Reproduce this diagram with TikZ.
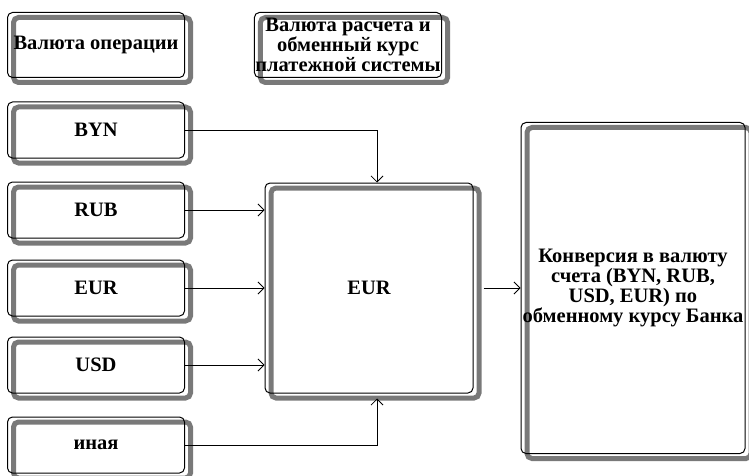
\documentclass[tikz,border=0pt]{standalone}
\usepackage{fontspec}
\setmainfont{Liberation Serif}
\usetikzlibrary{positioning, arrows.meta}

\begin{document}
\begin{tikzpicture}
[x=1pt,y=-1pt,
 every node/.style={font=\fontsize{20.5}{18.5}\selectfont\bfseries},
 box/.style={draw,line width=1pt,rounded corners=5pt,inner sep=1pt,
   preaction={draw=gray!95!black,line width=5pt,
     transform canvas={shift={(6pt,-5pt)}}}},
 small/.style={box,minimum width=177pt,minimum height=56pt},
 arr/.style={-{Straight Barb[length=6pt,width=12pt]},line width=0.8pt}]
\useasboundingbox (0,0) rectangle (749,476);

\node[box,minimum width=177pt,minimum height=65pt] (op) at (96,45) {Валюта операции};
\node[box,minimum width=182pt,minimum height=65pt,align=center] (rate) at (348,45)
	{Валюта расчета и\\обменный курс\\платежной системы};

\node[small] (byn) at (96,130) {BYN};
\node[small] (rub) at (96,210) {RUB};
\node[small] (eur) at (96,288) {EUR};
\node[small] (usd) at (96,365) {USD};
\node[small] (other) at (96,445) {иная};

\node[box,minimum width=208pt,minimum height=210pt] (base) at (369,288) {EUR};
\node[box,minimum width=224pt,minimum height=331pt,align=center] (conv) at (633,288)
	{Конверсия в валюту\\счета (BYN, RUB,\\USD, EUR) по\\обменному курсу Банка};

\draw[arr] (byn.east) -| ([xshift=8pt]base.north);
\draw[arr] (rub.east) -- (rub.east -| base.west);
\draw[arr] (eur.east) -- (eur.east -| base.west);
\draw[arr] (usd.east) -- (usd.east -| base.west);
\draw[arr] (other.east) -| ([xshift=8pt,yshift=-5pt]base.south);
\draw[arr] ([xshift=10pt]base.east) -- (conv.west);
\end{tikzpicture}
\end{document}
